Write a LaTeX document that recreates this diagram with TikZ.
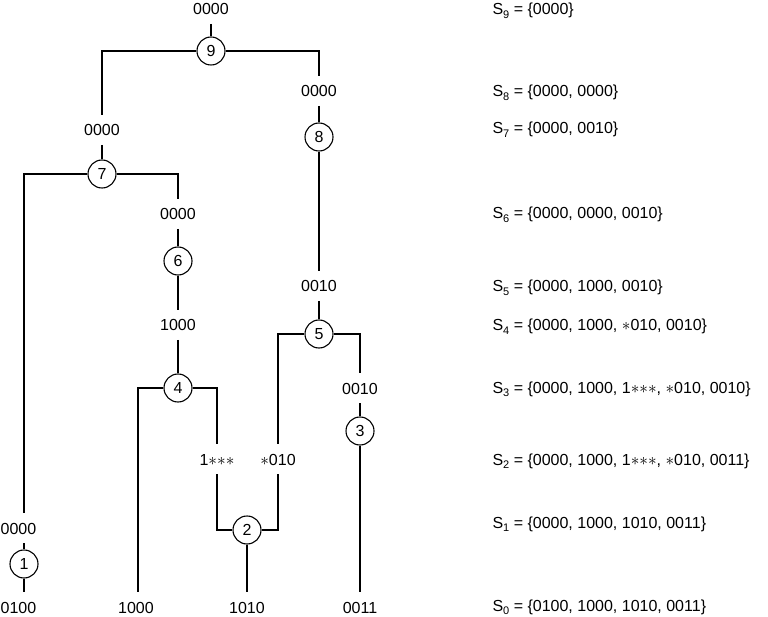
\documentclass[tikz,border=0pt]{standalone}
\usepackage{fontspec}
\setmainfont{Liberation Sans}
\newcommand\subs[1]{\raisebox{-3.5pt}{\fontsize{11}{11}\selectfont #1}}
\newcommand\st{$\ast$}
\begin{document}
\begin{tikzpicture}[x=1pt,y=-1pt,
  font=\fontsize{16}{19}\selectfont,
  line width=1.1pt,
  lab/.style={inner xsep=1pt,inner ysep=0pt,text height=12pt,text depth=0pt,outer ysep=9pt,anchor=base},
  circ/.style={circle,draw,minimum size=28pt,inner sep=0pt},
  setlab/.style={inner sep=0pt,anchor=base west}]
\useasboundingbox (0,0) rectangle (768,617);
% labels
\node[lab] (t9) at (211,15) {0000};
\node[lab] (la) at (102,136) {0000};
\node[lab] (lb) at (319,97) {0000};
\node[lab] (lc) at (319,292) {0010};
\node[lab] (ld) at (178,220) {0000};
\node[lab] (le) at (178,331) {1000};
\node[lab] (lf) at (360,394) {0010};
\node[lab] (lg) at (217,465) {1\st\st\st};
\node[lab] (lh) at (278,465) {\st010};
\node[lab] (li) at (18.5,534) {0000};
\node[lab] (b0) at (18.5,613) {0100};
\node[lab] (b1) at (136,613) {1000};
\node[lab] (b2) at (247,613) {1010};
\node[lab] (b3) at (360,613) {0011};
% circles
\node[circ] (n9) at (211,51) {9};
\node[circ] (n8) at (319,137) {8};
\node[circ] (n7) at (102,174) {7};
\node[circ] (n6) at (178,261) {6};
\node[circ] (n5) at (319,334) {5};
\node[circ] (n4) at (178,388) {4};
\node[circ] (n3) at (360,431) {3};
\node[circ] (n2) at (247,530) {2};
\node[circ] (n1) at (24,564) {1};
% connectors
\draw (t9.south) -- (n9.north);
\draw (n9.west) -| (la.north);
\draw (n9.east) -| (lb.north);
\draw (la.south) -- (n7.north);
\draw (lb.south) -- (n8.north);
\draw (n8.south) -- (lc.north);
\draw (lc.south) -- (n5.north);
\draw (n7.west) -| (n1.north |- li.north);
\draw (n1.north |- li.south) -- (n1.north);
\draw (n1.south) -- (n1.south |- b0.north);
\draw (n7.east) -| (ld.north);
\draw (ld.south) -- (n6.north);
\draw (n6.south) -- (le.north);
\draw (le.south) -- (n4.north);
\draw (n4.west) -| ([xshift=2pt]b1.north);
\draw (n4.east) -| (lg.north);
\draw (lg.south) |- (n2.west);
\draw (lh.south) |- (n2.east);
\draw (n2.south) -- (b2.north);
\draw (n5.west) -| (lh.north);
\draw (n5.east) -| (lf.north);
\draw (lf.south) -- (n3.north);
\draw (n3.south) -- (b3.north);
% sets
\node[setlab] (s9) at (492,15) {S\subs{9} = \{0000\}};
\node[setlab] (s8) at (492,97) {S\subs{8} = \{0000, 0000\}};
\node[setlab] (s7) at (492,134) {S\subs{7} = \{0000, 0010\}};
\node[setlab] (s6) at (492,219) {S\subs{6} = \{0000, 0000, 0010\}};
\node[setlab] (s5) at (492,292) {S\subs{5} = \{0000, 1000, 0010\}};
\node[setlab] (s4) at (492,331) {S\subs{4} = \{0000, 1000, \st010, 0010\}};
\node[setlab] (s3) at (492,393) {S\subs{3} = \{0000, 1000, 1\st\st\st, \st010, 0010\}};
\node[setlab] (s2) at (492,465) {S\subs{2} = \{0000, 1000, 1\st\st\st, \st010, 0011\}};
\node[setlab] (s1) at (492,528) {S\subs{1} = \{0000, 1000, 1010, 0011\}};
\node[setlab] (s0) at (492,611) {S\subs{0} = \{0100, 1000, 1010, 0011\}};
\end{tikzpicture}
\end{document}
